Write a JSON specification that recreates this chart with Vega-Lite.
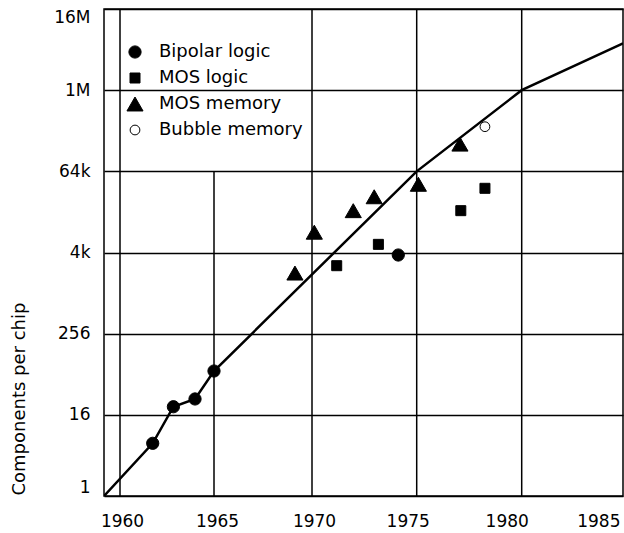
{
  "$schema": "https://vega.github.io/schema/vega-lite/v6.json",
  "width": 519,
  "height": 487,
  "autosize": {"type": "none"},
  "padding": {"left": 104, "top": 9, "right": 1, "bottom": 37},
  "background": "white",
  "config": {
    "view": {"stroke": "black", "strokeWidth": 1.5},
    "font": "DejaVu Sans"
  },
  "datasets": {
    "grid": [
      {"year": 1960, "value": 1, "value2": 16777216},
      {"year": 1965, "value": 1, "value2": 65536},
      {"year": 1970, "value": 1, "value2": 16777216},
      {"year": 1975, "value": 1, "value2": 16777216},
      {"year": 1980, "value": 1, "value2": 16777216}
    ],
    "curve": [
      {"year": 1959.15, "value": 1},
      {"year": 1961.74, "value": 6.05},
      {"year": 1962.84, "value": 21.1},
      {"year": 1963.99, "value": 27.5},
      {"year": 1965.0, "value": 71.5},
      {"year": 1975.0, "value": 65536},
      {"year": 1980.0, "value": 1048576},
      {"year": 1985.0, "value": 5200000}
    ],
    "points": [
      {"type": "Bipolar logic", "year": 1961.74, "value": 6.05},
      {"type": "Bipolar logic", "year": 1962.84, "value": 21.1},
      {"type": "Bipolar logic", "year": 1963.99, "value": 27.5},
      {"type": "Bipolar logic", "year": 1965.0, "value": 71.5},
      {"type": "Bipolar logic", "year": 1974.12, "value": 3760},
      {"type": "MOS logic", "year": 1971.18, "value": 2610},
      {"type": "MOS logic", "year": 1973.17, "value": 5410},
      {"type": "MOS logic", "year": 1977.1, "value": 17100},
      {"type": "MOS logic", "year": 1978.25, "value": 36700},
      {"type": "MOS memory", "year": 1969.13, "value": 2030},
      {"type": "MOS memory", "year": 1970.11, "value": 8190},
      {"type": "MOS memory", "year": 1971.97, "value": 17100},
      {"type": "MOS memory", "year": 1972.97, "value": 27500},
      {"type": "MOS memory", "year": 1975.08, "value": 42100},
      {"type": "MOS memory", "year": 1977.06, "value": 166000},
      {"type": "Bubble memory", "year": 1978.25, "value": 301000}
    ]
  },
  "layer": [
    {
      "data": {"name": "grid"},
      "mark": {"type": "rule", "color": "black", "strokeWidth": 1.5},
      "encoding": {
        "x": {
          "field": "year",
          "type": "quantitative",
          "scale": {
            "domain": [1959.15, 1960, 1965, 1970, 1975, 1980, 1985],
            "range": [0, 16, 110, 208, 312.7, 417.7, 519],
            "zero": false,
            "nice": false
          },
          "axis": {
            "title": null,
            "values": [1960, 1965, 1970, 1975, 1980, 1985],
            "format": "d",
            "grid": false,
            "ticks": false,
            "tickSize": 0,
            "domain": false,
            "labelFont": "DejaVu Sans",
            "labelFontSize": 17,
            "labelColor": "black",
            "labelPadding": 17,
            "labelFlush": true,
            "labelBound": false,
            "labelOverlap": false,
            "labelOffset": {"expr": "datum.value == 1975 ? -9 : datum.value == 1980 ? -15 : datum.value == 1985 ? -3 : datum.value == 1965 ? 3 : 2"}
          }
        },
        "y": {
          "field": "value",
          "type": "quantitative",
          "scale": {"type": "log", "base": 16, "domain": [1, 16777216], "nice": false},
          "axis": {
            "title": "Components per chip",
            "values": [1, 16, 256, 4096, 65536, 1048576, 16777216],
            "labelExpr": "datum.value >= 1048576 ? format(datum.value / 1048576, 'd') + 'M' : datum.value >= 4096 ? format(datum.value / 1024, 'd') + 'k' : format(datum.value, 'd')",
            "grid": true,
            "gridColor": "black",
            "gridWidth": 1.5,
            "gridOpacity": 1,
            "ticks": false,
            "tickSize": 0,
            "domain": false,
            "labelFont": "DejaVu Sans",
            "labelFontSize": 17,
            "labelColor": "black",
            "labelPadding": 14,
            "labelFlush": true,
            "labelOverlap": false,
            "titleFont": "DejaVu Sans",
            "titleFontSize": 18,
            "titleFontWeight": "normal",
            "titleColor": "black",
            "titleAngle": -90,
            "titleAlign": "left",
            "titleBaseline": "alphabetic",
            "titleX": -80,
            "titleY": 486
          }
        },
        "y2": {"field": "value2"}
      }
    },
    {
      "data": {"name": "curve"},
      "mark": {"type": "line", "color": "black", "strokeWidth": 2.5, "clip": true},
      "encoding": {
        "x": {"field": "year", "type": "quantitative"},
        "y": {"field": "value", "type": "quantitative"}
      }
    },
    {
      "data": {"name": "points"},
      "mark": {"type": "point", "filled": true, "stroke": "black", "strokeWidth": 1, "opacity": 1},
      "encoding": {
        "x": {"field": "year", "type": "quantitative"},
        "y": {"field": "value", "type": "quantitative"},
        "shape": {
          "field": "type",
          "type": "nominal",
          "scale": {
            "domain": ["Bipolar logic", "MOS logic", "MOS memory", "Bubble memory"],
            "range": ["circle", "square", "triangle-up", "circle"]
          },
          "legend": {
            "title": null,
            "orient": "none",
            "legendX": 22,
            "legendY": 34,
            "labelFont": "DejaVu Sans",
            "labelFontSize": 18,
            "labelColor": "black",
            "rowPadding": 8,
            "labelOffset": 15,
            "symbolStrokeColor": "black",
            "symbolStrokeWidth": 1,
            "symbolOpacity": 1,
            "encode": {"symbols": {"update": {"stroke": {"value": "black"}, "strokeWidth": {"value": 1}}}}
          }
        },
        "fill": {
          "field": "type",
          "type": "nominal",
          "scale": {
            "domain": ["Bipolar logic", "MOS logic", "MOS memory", "Bubble memory"],
            "range": ["black", "black", "black", "white"]
          },
          "legend": {
            "title": null,
            "orient": "none",
            "legendX": 22,
            "legendY": 34,
            "labelFont": "DejaVu Sans",
            "labelFontSize": 18,
            "labelColor": "black",
            "rowPadding": 8,
            "labelOffset": 15,
            "symbolStrokeColor": "black",
            "symbolStrokeWidth": 1,
            "symbolOpacity": 1,
            "encode": {"symbols": {"update": {"stroke": {"value": "black"}, "strokeWidth": {"value": 1}}}}
          }
        },
        "size": {
          "field": "type",
          "type": "nominal",
          "scale": {
            "type": "ordinal",
            "domain": ["Bipolar logic", "MOS logic", "MOS memory", "Bubble memory"],
            "range": [150, 100, 260, 95]
          },
          "legend": {
            "title": null,
            "orient": "none",
            "legendX": 22,
            "legendY": 34,
            "labelFont": "DejaVu Sans",
            "labelFontSize": 18,
            "labelColor": "black",
            "rowPadding": 8,
            "labelOffset": 15,
            "symbolStrokeColor": "black",
            "symbolStrokeWidth": 1,
            "symbolOpacity": 1,
            "encode": {"symbols": {"update": {"stroke": {"value": "black"}, "strokeWidth": {"value": 1}}}}
          }
        }
      }
    }
  ]
}
